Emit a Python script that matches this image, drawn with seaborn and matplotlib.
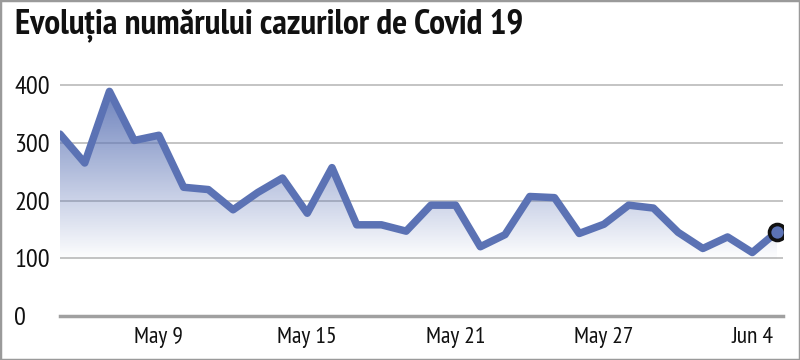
import numpy as np
import matplotlib
matplotlib.use("Agg")
import matplotlib.pyplot as plt
import seaborn as sns
from matplotlib.patches import Rectangle

# daily cases
cases = [315, 265, 389, 304, 313, 223, 219, 184, 214, 239,
         178, 257, 158, 158, 147, 192, 192, 120, 141, 207,
         205, 143, 159, 192, 187, 145, 117, 137, 110, 146]
tick_pos = [4, 10, 16, 22, 28]
tick_labels = ["May 9", "May 15", "May 21", "May 27", "Jun 4"]
y_ticks = [0, 100, 200, 300, 400]

title = "Evoluția numărului cazurilor de Covid 19"
line_color = "#5b72b4"
fill_rgb = (0.38, 0.47, 0.72)

sns.set_style("white")
plt.rcParams["font.family"] = ["PT Sans Narrow", "Roboto Condensed", "DejaVu Sans"]

x = np.arange(len(cases))
fig = plt.figure(figsize=(8, 3.6), dpi=100)
ax = fig.add_axes([0.075, 0.122, 0.904, 0.682])

# gradient under the line
grad = np.zeros((256, 2, 4))
ys = np.linspace(425, 0, 256)
alpha = np.clip((ys - 95) / (400 - 95), 0, 1) * 0.95
grad[..., 0] = fill_rgb[0]
grad[..., 1] = fill_rgb[1]
grad[..., 2] = fill_rgb[2]
grad[..., 3] = alpha[:, None]
poly = ax.fill_between(x, cases, 0, color="none", lw=0)
img = ax.imshow(grad, extent=[0, len(cases) - 1, 0, 425], aspect="auto", zorder=1)
img.set_clip_path(poly.get_paths()[0], transform=ax.transData)

sns.lineplot(x=x, y=cases, ax=ax, color=line_color, lw=5.4, zorder=3)
ax.plot(x[-1], cases[-1], "o", ms=11.5, mfc=line_color, mec="#111111", mew=2.6, zorder=4)

ax.set_xlim(0, 29.25)
ax.set_ylim(0, 425)
ax.set_yticks(y_ticks)
ax.set_xticks(tick_pos)
ax.set_xticklabels(tick_labels)
ax.grid(axis="y", color="#b4b4b4", lw=1.1)
ax.set_axisbelow(True)
for s in ["top", "right", "left"]:
    ax.spines[s].set_visible(False)
ax.spines["bottom"].set_color("#a0a0a0")
ax.spines["bottom"].set_linewidth(2.5)
ax.tick_params(axis="x", length=6, width=2, color="#a0a0a0", labelsize=17, pad=2, labelcolor="#111111")
ax.tick_params(axis="y", length=0, labelsize=19, pad=33, labelcolor="#111111")
for lab in ax.get_yticklabels():
    lab.set_ha("left")

fig.text(0.019, 0.93, title, fontsize=25.5, fontweight="bold", color="#111111", va="center", ha="left")
fig.patches.append(Rectangle((0, 0), 1, 1, transform=fig.transFigure, fill=False,
                             edgecolor="#9a9a9a", lw=2.5))

fig.savefig("out.png", dpi=100)
